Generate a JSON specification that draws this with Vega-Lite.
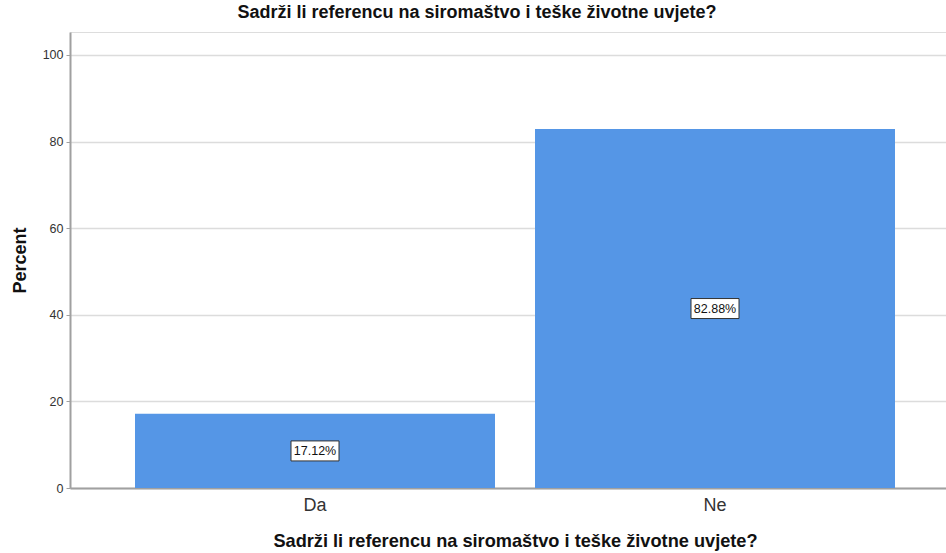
{
  "$schema": "https://vega.github.io/schema/vega-lite/v6.json",
  "autosize": "none",
  "width": 890,
  "height": 456,
  "padding": {"left": 70, "top": 32, "right": 0, "bottom": 65},
  "background": "white",
  "title": {
    "text": "Sadrži li referencu na siromaštvo i teške životne uvjete?",
    "font": "Liberation Sans",
    "fontSize": 18,
    "fontWeight": "bold",
    "color": "#111111",
    "offset": 10,
    "dx": -38
  },
  "data": {
    "values": [
      {"answer": "Da", "percent": 17.12},
      {"answer": "Ne", "percent": 82.88}
    ]
  },
  "transform": [
    {"calculate": "datum.percent / 2", "as": "mid"},
    {"calculate": "format(datum.percent, '.2f') + '%'", "as": "label"}
  ],
  "encoding": {
    "x": {
      "field": "answer",
      "type": "nominal",
      "scale": {"paddingInner": 0.1, "paddingOuter": 0.1625},
      "axis": {
        "title": "Sadrži li referencu na siromaštvo i teške životne uvjete?",
        "labelAngle": 0,
        "labelFont": "Liberation Sans",
        "labelFontSize": 18,
        "labelColor": "#333333",
        "labelPadding": 8,
        "ticks": false,
        "domainColor": "#a0a0a0",
        "domainWidth": 2,
        "titleFont": "Liberation Sans",
        "titleFontSize": 18.2,
        "titleFontWeight": "bold",
        "titleColor": "#111111",
        "titlePadding": 18
      }
    }
  },
  "layer": [
    {
      "mark": {"type": "bar", "color": "#5596e6"},
      "encoding": {
        "y": {
          "field": "percent",
          "type": "quantitative",
          "scale": {"domain": [0, 105.3], "nice": false},
          "axis": {
            "title": "Percent",
            "values": [0, 20, 40, 60, 80, 100],
            "labelFont": "Liberation Sans",
            "labelFontSize": 12.5,
            "labelColor": "#333333",
            "labelPadding": 3,
            "tickSize": 4,
            "tickColor": "#a0a0a0",
            "domainColor": "#a0a0a0",
            "domainWidth": 2,
            "gridColor": "#dcdcdc",
            "gridWidth": 1.5,
            "titleFont": "Liberation Sans",
            "titleFontSize": 18,
            "titleFontWeight": "bold",
            "titleColor": "#111111",
            "titlePadding": 13
          }
        }
      }
    },
    {
      "mark": {
        "type": "tick",
        "size": 48,
        "thickness": 20,
        "color": "white",
        "opacity": 1,
        "stroke": "#333333",
        "strokeWidth": 1
      },
      "encoding": {
        "y": {"field": "mid", "type": "quantitative"}
      }
    },
    {
      "mark": {
        "type": "text",
        "font": "Liberation Sans",
        "fontSize": 12.5,
        "color": "#111111"
      },
      "encoding": {
        "y": {"field": "mid", "type": "quantitative"},
        "text": {"field": "label"}
      }
    }
  ]
}
